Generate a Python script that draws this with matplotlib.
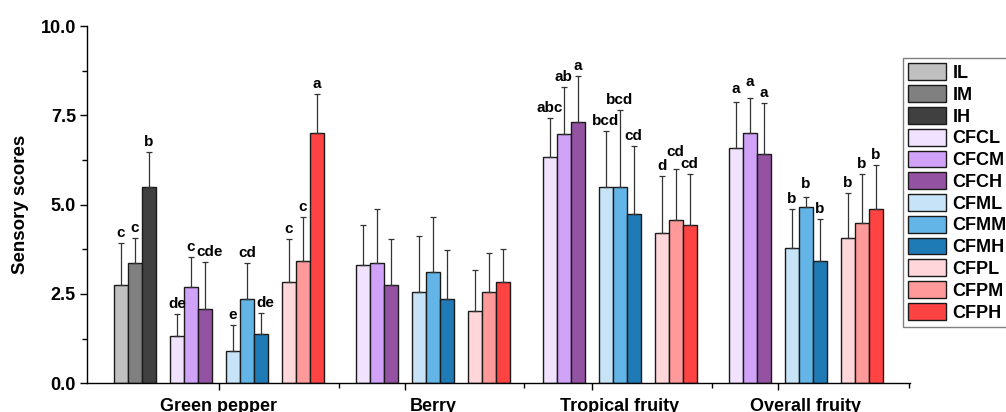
import matplotlib.pyplot as plt
import numpy as np

plt.rcParams['font.family'] = ['Liberation Sans', 'DejaVu Sans']
plt.rcParams['font.weight'] = 'bold'

attributes = ["Green pepper", "Berry", "Tropical fruity", "Overall fruity"]
treatments = ["IL", "IM", "IH", "CFCL", "CFCM", "CFCH",
              "CFML", "CFMM", "CFMH", "CFPL", "CFPM", "CFPH"]
colors = ["#c0c0c0", "#808080", "#404040", "#f1e2ff", "#d0a2f8", "#9452a2",
          "#c6e3f7", "#62b5e6", "#1f7bb6", "#ffd6d9", "#ff999a", "#ff4343"]

nan = np.nan
# mean scores (rows follow attributes, columns follow treatments)
green_pepper = [2.75, 3.36, 5.49, 1.32, 2.70, 2.08, 0.90, 2.37, 1.37, 2.84, 3.42, 7.00]
berry = [nan, nan, nan, 3.30, 3.36, 2.74, 2.56, 3.11, 2.37, 2.02, 2.56, 2.84]
tropical_fruity = [nan, nan, nan, 6.33, 6.99, 7.31, 5.49, 5.49, 4.75, 4.20, 4.56, 4.43]
overall_fruity = [nan, nan, nan, 6.58, 7.00, 6.42, 3.80, 4.93, 3.42, 4.06, 4.50, 4.87]

# standard deviations (upper error bars)
green_pepper_sd = [1.19, 0.71, 0.99, 0.62, 0.84, 1.32, 0.72, 0.99, 0.59, 1.20, 1.24, 1.10]
berry_sd = [nan, nan, nan, 1.12, 1.51, 1.29, 1.56, 1.54, 1.36, 1.15, 1.10, 0.91]
tropical_fruity_sd = [nan, nan, nan, 1.10, 1.29, 1.30, 1.56, 2.15, 1.89, 1.60, 1.45, 1.43]
overall_fruity_sd = [nan, nan, nan, 1.29, 0.98, 1.43, 1.08, 0.28, 1.17, 1.26, 1.36, 1.23]

# significance letters
green_pepper_sig = ["c", "c", "b", "de", "c", "cde", "e", "cd", "de", "c", "c", "a"]
berry_sig = [""] * 12
tropical_fruity_sig = ["", "", "", "abc", "ab", "a", "bcd", "bcd", "cd", "d", "cd", "cd"]
overall_fruity_sig = ["", "", "", "a", "a", "a", "b", "b", "b", "b", "b", "b"]

means = np.array([green_pepper, berry, tropical_fruity, overall_fruity])
sds = np.array([green_pepper_sd, berry_sd, tropical_fruity_sd, overall_fruity_sd])
sigs = [green_pepper_sig, berry_sig, tropical_fruity_sig, overall_fruity_sig]

# hand nudges for a few letters (points), so they don't collide
nudge = {(0, 5): (3, 0), (0, 8): (3, 0), (2, 10): (0, 4.5),
         (3, 3): (0, 2.5), (3, 4): (0, 4.5), (3, 7): (0, 2.5)}

fig = plt.figure(figsize=(10.06, 4.12), dpi=100)
ax = fig.add_axes([87 / 1006, 1 - 383.3 / 412, (910 - 87) / 1006, (383.3 - 26) / 412])

group_x = np.arange(len(attributes), dtype=float)
bw = 14 / 186.3
offsets = np.array([(k - 1.5) * 4 * bw + (j - 1) * bw for k in range(4) for j in range(3)])

handles = []
for i, name in enumerate(treatments):
    x = group_x + offsets[i]
    h = means[:, i]
    e = sds[:, i]
    m = ~np.isnan(h)
    bars = ax.bar(x[m], h[m], width=bw, color=colors[i], edgecolor="#1a1a1a",
                  linewidth=1.0, label=name, zorder=2)
    handles.append(bars)
    ax.errorbar(x[m], h[m], yerr=[np.zeros(m.sum()), e[m]], fmt="none",
                ecolor="#333333", elinewidth=0.9, capsize=2, capthick=0.9, zorder=3)
    for g in np.where(m)[0]:
        if sigs[g][i]:
            dx, dy = nudge.get((g, i), (0, 0))
            ax.annotate(sigs[g][i], (x[g], h[g] + e[g]), xytext=(dx, 4.3 + dy),
                        textcoords="offset points", ha="center", va="baseline",
                        fontsize=11, fontweight="bold")

ax.set_xlim((87 - 219) / 186.3, (910 - 219) / 186.3)
ax.set_ylim(0, 10)
ax.set_yticks(np.arange(0, 10.01, 2.5))
ax.set_yticklabels(["%.1f" % v for v in np.arange(0, 10.01, 2.5)])
ax.set_yticks(np.arange(1.25, 10, 2.5), minor=True)
ax.set_xticks(group_x)
ax.set_xticklabels([""] * len(attributes))
ax.set_xticks([0.645, 1.635, 2.645, 3.705], minor=True)
ax.tick_params(axis="both", which="major", length=5, width=1, labelsize=13, pad=3)
ax.tick_params(axis="both", which="minor", length=3.5, width=1)

for g, name in enumerate(attributes):
    present = group_x[g] + offsets[~np.isnan(means[g])]
    xc = (present.min() + present.max()) / 2
    ax.annotate(name, (xc, 0), xycoords=("data", "axes fraction"), xytext=(0, -10.5),
                textcoords="offset points", ha="center", va="top",
                fontsize=13, fontweight="bold")

ax.set_ylabel("Sensory scores", fontsize=13.5, fontweight="bold", labelpad=8)
ax.spines["top"].set_visible(False)
ax.spines["right"].set_visible(False)
ax.spines["left"].set_linewidth(1)
ax.spines["bottom"].set_linewidth(1)

leg = fig.legend(handles=handles, labels=treatments, loc="upper left",
                 bbox_to_anchor=(903 / 1006, 1 - 58 / 412), borderaxespad=0,
                 fontsize=13, handlelength=2.1, handleheight=1.05, labelspacing=0.18,
                 handletextpad=0.35, borderpad=0.3, fancybox=False,
                 edgecolor="#808080", framealpha=1)
leg.get_frame().set_linewidth(1)

fig.savefig("out.png", dpi=100)
